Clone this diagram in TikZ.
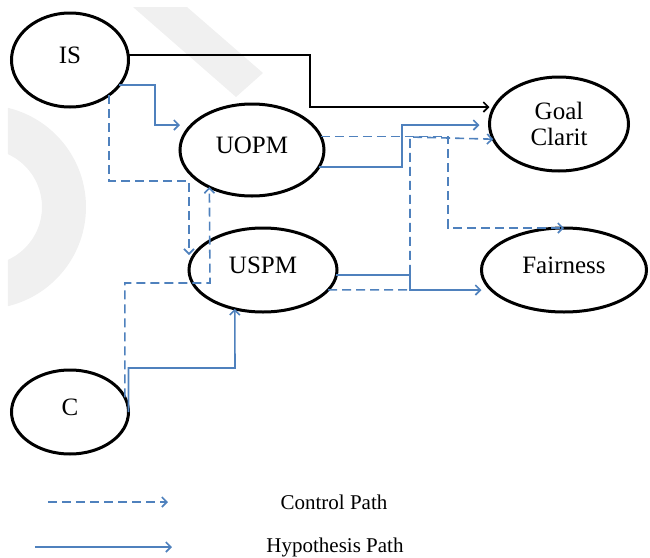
\documentclass[tikz,border=0pt]{standalone}
\usepackage{fontspec}
\setmainfont{Liberation Serif}
\usetikzlibrary{arrows.meta,shapes.geometric}
\definecolor{pathblue}{RGB}{79,129,189}
\begin{document}
\begin{tikzpicture}[
        x=0.5pt, y=-0.5pt,
        % ellissi delle variabili
        var/.style={
            draw=black,
            ellipse,
            line width=1.5pt,
            inner sep=0pt,
            outer sep=0pt,
            font=\fontsize{12.5}{13}\selectfont
        },
        lift/.style={
            text height=8pt,
            text depth=5pt
        },
        hyp/.style={
            draw=pathblue,
            line width=0.8pt,
            -{Straight Barb[length=2.5pt,width=5pt]}
        },
        ctl/.style={
            hyp,
            dash pattern=on 4.5pt off 2.5pt
        },
        legend/.style={
            font=\fontsize{10.5}{12}\selectfont
        }
    ]
    \useasboundingbox (0,0) rectangle (650,558);

    % --- filigrana ---
    \begin{scope}
        \clip (8,7) rectangle (650,558);
        \fill[black!6] (133,7) -- (187,7) -- (263,73) -- (236,97) -- cycle;
        \fill[black!6, even odd rule] (-16,207) circle[radius=102] (-16,207) circle[radius=58];
    \end{scope}

    \node[var, lift, minimum width=58.5pt, minimum height=47pt] (is) at (70,60) {IS};
    \node[var, lift, minimum width=72pt, minimum height=46pt] (uopm) at (252,150) {UOPM};
    \node[var, lift, minimum width=74pt, minimum height=42pt] (uspm) at (263,270) {USPM};
    \node[var, align=center, minimum width=69.5pt, minimum height=47pt] (goal) at (559,124) {Goal\\Clarit};
    \node[var, lift, minimum width=82.5pt, minimum height=42pt] (fair) at (564,270) {Fairness};
    \node[var, lift, minimum width=58.5pt, minimum height=42pt] (c) at (70,412) {C};

    % --- percorsi ---
    \draw[hyp, draw=black] (is.5) -| (310,107) -- (goal.west |- 0,107);
    \draw[hyp] (is.-27) -| (155,125) -- (uopm.west |- 0,125);
    \draw[ctl] (is.-42) |- (189,181) -- ([yshift=7.5pt]uspm.west);
    \draw[ctl] (c.15) |- (210,283) -- (uopm.221);
    \draw[hyp] (c.east) |- (235,368) -- (uspm.234);
    \draw[hyp, shorten >=5pt] (uopm.-14) -| (402,125) -- (goal.west |- 0,125);
    \draw[ctl] (uopm.11) -| (448,228) -- (fair.north);
    \draw[ctl] (uspm.-17) -| (410,137) -- (goal.193);
    \draw[hyp] (uspm.-4) -| (410,290) -- (fair.west |- 0,290);

    % --- legenda ---
    \coordinate (ctlA) at (48,502);
    \coordinate (ctlB) at (168,502);
    \coordinate (hypA) at (35,547);
    \coordinate (hypB) at (172,547);
    \draw[ctl] (ctlA) -- (ctlB);
    \draw[hyp] (hypA) -- (hypB);
    \node[legend] (ctltxt) at (334,502) {Control Path};
    \node[legend] (hyptxt) at (335,547) {Hypothesis Path};

\end{tikzpicture}
\end{document}
